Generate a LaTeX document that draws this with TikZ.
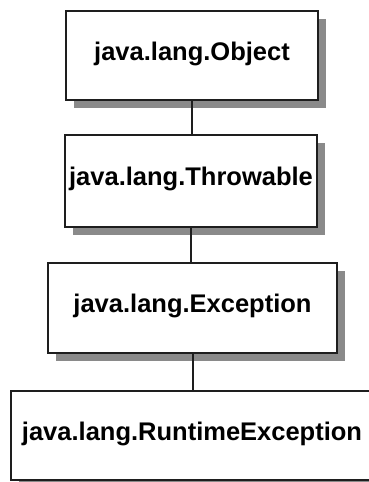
\documentclass[tikz,border=0pt]{standalone}
\usepackage{fontspec}
\setmainfont{Liberation Sans}
\usetikzlibrary{shadows}
\definecolor{edgeink}{HTML}{1E1E1E}
\definecolor{shadowgray}{HTML}{8A8A8A}
\tikzset{
  classbox/.style={draw=edgeink, line width=2pt, fill=white, inner sep=0pt,
    text height=49pt, text depth=40pt,
    font=\fontsize{25.5}{29}\selectfont\bfseries,
    general shadow={fill=shadowgray, shadow xshift=8pt, shadow yshift=-8pt}},
  inherit/.style={draw=edgeink, line width=2pt}
}
\begin{document}
\begin{tikzpicture}[x=1pt, y=-1pt]
  \useasboundingbox (0,0) rectangle (369,482);
  % class hierarchy boxes, top to bottom
  \node[classbox, minimum width=252pt, minimum height=89pt] (obj) at (192,55.5) {java.lang.Object};
  \node[classbox, minimum width=252pt, minimum height=92pt] (thr) at (191,181) {java.lang.Throwable};
  \node[classbox, minimum width=289pt, minimum height=90pt] (exc) at (192.5,308) {java.lang.Exception};
  \node[classbox, minimum width=362pt, minimum height=89pt] (rte) at (192,435.5) {java.lang.RuntimeException};
  % inheritance links
  \draw[inherit] (obj.south) -- (obj.south |- thr.north);
  \draw[inherit] (thr.south) -- (thr.south |- exc.north);
  \draw[inherit] (exc.south) -- (exc.south |- rte.north);
\end{tikzpicture}
\end{document}
